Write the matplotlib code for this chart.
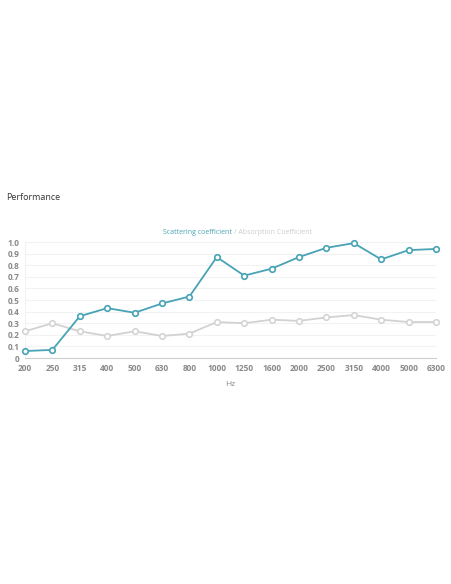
import matplotlib.pyplot as plt

# --- Data ---
freqs = ["200", "250", "315", "400", "500", "630", "800", "1000",
         "1250", "1600", "2000", "2500", "3150", "4000", "5000", "6300"]
scattering = [0.06, 0.07, 0.36, 0.43, 0.39, 0.47, 0.53, 0.87,
              0.71, 0.77, 0.87, 0.95, 0.99, 0.85, 0.93, 0.94]
absorption = [0.23, 0.30, 0.23, 0.19, 0.23, 0.19, 0.21, 0.31,
              0.30, 0.33, 0.32, 0.35, 0.37, 0.33, 0.31, 0.31]
y_ticks = [0, 0.1, 0.2, 0.3, 0.4, 0.5, 0.6, 0.7, 0.8, 0.9, 1.0]
y_labels = ["0", "0.1", "0.2", "0.3", "0.4", "0.5", "0.6", "0.7", "0.8", "0.9", "1.0"]

TEAL = "#47a3b5"
GREY = "#d2d2d2"
TEXT = "#8a8a8a"

plt.rcParams["font.family"] = ["Open Sans", "DejaVu Sans"]

fig = plt.figure(figsize=(4.52, 5.84), dpi=100)
ax = fig.add_axes([25 / 452, 1 - 358 / 584, (436 - 25) / 452, (358 - 242) / 584])

x = list(range(len(freqs)))
ax.plot(x, absorption, "-o", color=GREY, lw=1.3, ms=4,
        markerfacecolor="white", markeredgewidth=1.1, clip_on=False, zorder=3)
ax.plot(x, scattering, "-o", color=TEAL, lw=1.3, ms=4,
        markerfacecolor="white", markeredgewidth=1.2, clip_on=False, zorder=4)

ax.set_xlim(0, len(freqs) - 1)
ax.set_ylim(0, 1.0)
ax.set_xticks(x)
ax.set_xticklabels(freqs, fontsize=6, color=TEXT, fontweight="bold")
ax.set_yticks(y_ticks)
ax.set_yticklabels(y_labels, fontsize=6, color=TEXT, fontweight="bold")
ax.tick_params(length=0, pad=4)
ax.grid(axis="y", color="#f2f2f2", lw=0.8)
ax.set_axisbelow(True)
for side in ["top", "right"]:
    ax.spines[side].set_visible(False)
ax.spines["left"].set_color("#f2f2f2")
ax.spines["bottom"].set_color("#cfcfcf")
ax.spines["bottom"].set_linewidth(0.8)

ax.set_xlabel("Hz", fontsize=6, color=TEXT, labelpad=6)

# Legend-style title: two coloured parts
fig.text(232 / 452, 1 - 233 / 584, "Scattering coefficient", color=TEAL,
         fontsize=5, ha="right", va="center")
fig.text(232 / 452, 1 - 233 / 584, " / Absorption Coefficient", color="#cccccc",
         fontsize=5, ha="left", va="center")

fig.text(6 / 452, 1 - 197 / 584, "Performance", color="#333333",
         fontsize=6.5, ha="left", va="center")

fig.savefig("out.png", dpi=100, facecolor="white")
